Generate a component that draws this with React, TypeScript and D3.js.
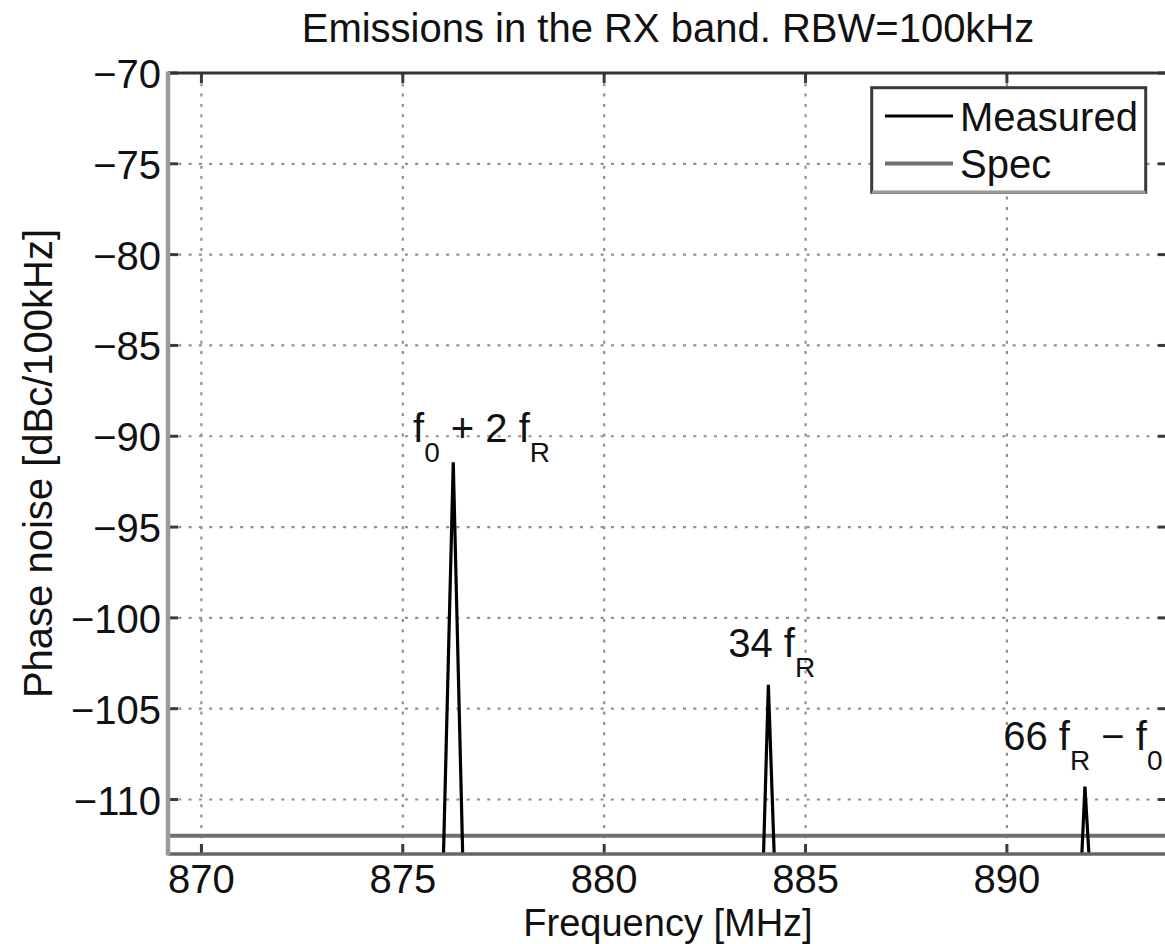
import React, { useEffect } from 'react';
import * as d3 from 'd3';

// ---- data ----
const xTicks = [870, 875, 880, 885, 890];
const yTicks = [-70, -75, -80, -85, -90, -95, -100, -105, -110];

// Measured spectrum (dBc/100kHz); floor values lie below the visible range
const measuredFreq = [869.17, 876.007, 876.253, 876.49, 883.953, 884.077, 884.226, 891.855, 891.937, 892.045, 894.0];
const measuredLevel = [-115, -113.3, -91.43, -113.3, -113.3, -103.69, -113.3, -113.3, -109.29, -113.3, -115];

const specFreq = [869.17, 894.0];
const specLevel = [-112, -112];

const labelTexts = ['f_0 + 2 f_R', '34 f_R', '66 f_R − f_0'];
const labelFreq = [875.254, 883.08, 889.91];
const labelLevel = [-90.3, -102.14, -107.27];

const legendNames = ['Measured', 'Spec'];

const titleText = 'Emissions in the RX band. RBW=100kHz';
const xLabelText = 'Frequency [MHz]';
const yLabelText = 'Phase noise [dBc/100kHz]';

// ---- layout ----
const W = 1165;
const H = 944;
const L = 168;
const R = 1168;
const T = 73;
const B = 854;
const FONT = '"Liberation Sans", Arial, Helvetica, sans-serif';
const FS = 40;
const SUBFS = 28;
const SUBDY = 20;
const TICK = 10;

function fmt(v: number) {
  return v < 0 ? '\u2212' + Math.abs(v) : String(v);
}

function parseTex(s: string) {
  const parts: { t: string; sub: boolean }[] = [];
  let i = 0;
  let buf = '';
  while (i < s.length) {
    if (s[i] === '_' && i + 1 < s.length) {
      if (buf) parts.push({ t: buf, sub: false });
      buf = '';
      parts.push({ t: s[i + 1], sub: true });
      i += 2;
    } else {
      buf += s[i];
      i++;
    }
  }
  if (buf) parts.push({ t: buf, sub: false });
  return parts;
}

export default function App() {
  useEffect(() => {
    document.body.style.margin = '0';
  }, []);

  const x = d3.scaleLinear().domain([869.17, 894.0]).range([L, R]);
  const y = d3.scaleLinear().domain([-113, -70]).range([B, T]);

  const measuredPath = d3
    .line<number>()
    .x((d) => x(d))
    .y((_, i) => y(measuredLevel[i]))(measuredFreq) as string;

  const specPath = d3
    .line<number>()
    .x((d) => x(d))
    .y((_, i) => y(specLevel[i]))(specFreq) as string;

  const gridColor = '#8f8f8f';
  const tickColor = '#3a3a3a';

  return (
    <svg
      width={W}
      height={H}
      viewBox={`0 0 ${W} ${H}`}
      style={{ position: 'absolute', left: 0, top: 0, display: 'block', background: '#fff' }}
      fontFamily={FONT}
    >
      <defs>
        <clipPath id="plotClip">
          <rect x={L} y={T} width={R - L} height={B - T} />
        </clipPath>
      </defs>
      <rect x={0} y={0} width={W} height={H} fill="#fff" />

      {/* grid */}
      <g stroke={gridColor} strokeWidth={2.2} strokeDasharray="3 7.3">
        {xTicks.map((t) => (
          <line key={'gx' + t} x1={x(t)} x2={x(t)} y1={T} y2={B} />
        ))}
        {yTicks.map((t) => (
          <line key={'gy' + t} x1={L} x2={R} y1={y(t)} y2={y(t)} />
        ))}
      </g>

      {/* ticks */}
      <g stroke={tickColor} strokeWidth={3}>
        {xTicks.map((t) => (
          <g key={'tx' + t}>
            <line x1={x(t)} x2={x(t)} y1={B} y2={B - TICK} />
            <line x1={x(t)} x2={x(t)} y1={T} y2={T + TICK} />
          </g>
        ))}
        {yTicks.map((t) => (
          <g key={'ty' + t}>
            <line x1={L} x2={L + TICK} y1={y(t)} y2={y(t)} />
            <line x1={R} x2={R - TICK} y1={y(t)} y2={y(t)} />
          </g>
        ))}
      </g>

      {/* series */}
      <g clipPath="url(#plotClip)">
        <path d={specPath} fill="none" stroke="#707070" strokeWidth={4} />
        <path d={measuredPath} fill="none" stroke="#000" strokeWidth={3.2} strokeLinejoin="miter" />
      </g>

      {/* axes box */}
      <line x1={L} x2={R} y1={T} y2={T} stroke="#333" strokeWidth={3} />
      <line x1={L} x2={R} y1={B} y2={B} stroke="#666" strokeWidth={3.5} />
      <line x1={L} x2={L} y1={T - 1.5} y2={B + 1.5} stroke="#9a9a9a" strokeWidth={4.5} />
      <line x1={R} x2={R} y1={T} y2={B} stroke="#333" strokeWidth={3} />

      {/* tick labels */}
      <g fontSize={FS} fill="#111">
        {xTicks.map((t) => (
          <text key={'lx' + t} x={x(t)} y={892.5} textAnchor="middle">
            {fmt(t)}
          </text>
        ))}
        {yTicks.map((t) => (
          <text key={'ly' + t} x={161} y={y(t) + 15} textAnchor="end">
            {fmt(t)}
          </text>
        ))}
      </g>

      {/* annotations */}
      <g fontSize={FS} fill="#111" style={{ whiteSpace: 'pre' }}>
        {labelTexts.map((s, k) => {
          const parts = parseTex(s);
          let shifted = false;
          return (
            <text key={'ann' + k} x={x(labelFreq[k])} y={y(labelLevel[k])} xmlSpace="preserve">
              {parts.map((p, j) => {
                let dy = 0;
                if (p.sub && !shifted) {
                  dy = SUBDY;
                  shifted = true;
                } else if (!p.sub && shifted) {
                  dy = -SUBDY;
                  shifted = false;
                }
                return (
                  <tspan key={j} dy={dy} fontSize={p.sub ? SUBFS : FS}>
                    {p.t}
                  </tspan>
                );
              })}
            </text>
          );
        })}
      </g>

      {/* legend */}
      <g>
        <rect x={871.7} y={87.7} width={274} height={104.6} fill="#fff" stroke="#3a3a3a" strokeWidth={3} />
        <line x1={871.7} x2={1145.7} y1={192.3} y2={192.3} stroke="#999" strokeWidth={3} />
        {legendNames.map((n, i) => (
          <g key={n}>
            <line
              x1={885}
              x2={953}
              y1={116 + i * 47.5}
              y2={116 + i * 47.5}
              stroke={i === 0 ? '#000' : '#707070'}
              strokeWidth={i === 0 ? 3.2 : 4}
            />
            <text x={960} y={130.5 + i * 47.5} fontSize={FS} fill="#111">
              {n}
            </text>
          </g>
        ))}
      </g>

      {/* title and axis labels */}
      <text x={(L + R) / 2} y={42} fontSize={FS} textAnchor="middle" fill="#111">
        {titleText}
      </text>
      <text x={(L + R) / 2} y={935.8} fontSize={38} textAnchor="middle" fill="#111">
        {xLabelText}
      </text>
      <text
        transform={`translate(52, ${(T + B) / 2}) rotate(-90)`}
        fontSize={FS}
        textAnchor="middle"
        fill="#111"
      >
        {yLabelText}
      </text>
    </svg>
  );
}
